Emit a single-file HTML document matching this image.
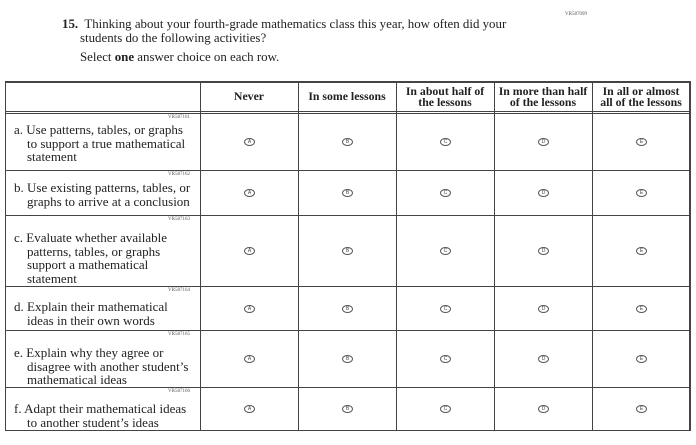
<!DOCTYPE html>
<html><head><meta charset="utf-8"><style>
body{margin:0;width:696px;height:445px;background:#fff;position:relative;overflow:hidden;font-family:"Liberation Serif",serif;color:#222}
.a{position:absolute;white-space:nowrap}
.hl{position:absolute;background:#444;height:1px}
.vl{position:absolute;background:#444;width:1px}
.q{font-size:12.9px;line-height:13px}
.vr{font-size:5px;color:#555}
.rt{font-size:13px;line-height:13.5px}
.hd{font-size:11.8px;font-weight:bold;line-height:11px;text-align:center;position:absolute}
.b{position:absolute;width:9px;height:6px;border:1px solid #555;border-radius:50%;font-size:5px;line-height:6px;text-align:center;color:#444;font-family:"Liberation Sans",sans-serif}
</style></head><body>
<div class="a vr" style="left:565px;top:12px">VR587099</div>
<div class="a q" style="left:62px;top:18px"><b>15.</b>&nbsp; Thinking about your fourth-grade mathematics class this year, how often did your</div>
<div class="a q" style="left:80px;top:32px">students do the following activities?</div>
<div class="a q" style="left:80px;top:51px">Select <b>one</b> answer choice on each row.</div>

<div class="hl" style="left:5px;width:685px;top:81px;height:2px"></div>
<div class="hl" style="left:5px;width:685px;top:111px"></div>
<div class="hl" style="left:5px;width:685px;top:113px"></div>
<div class="hl" style="left:5px;width:685px;top:170px"></div>
<div class="hl" style="left:5px;width:685px;top:215px"></div>
<div class="hl" style="left:5px;width:685px;top:286px"></div>
<div class="hl" style="left:5px;width:685px;top:330px"></div>
<div class="hl" style="left:5px;width:685px;top:387px"></div>
<div class="hl" style="left:5px;width:685px;top:430px"></div>
<div class="vl" style="left:5px;top:81px;height:350px"></div>
<div class="vl" style="left:689px;top:81px;height:350px;width:2px"></div>
<div class="vl" style="left:200px;top:81px;height:350px"></div>
<div class="vl" style="left:298px;top:81px;height:350px"></div>
<div class="vl" style="left:396px;top:81px;height:350px"></div>
<div class="vl" style="left:494px;top:81px;height:350px"></div>
<div class="vl" style="left:592px;top:81px;height:350px"></div>

<div class="hd" style="left:200px;width:98px;top:91px">Never</div>
<div class="hd" style="left:298px;width:98px;top:91px">In some lessons</div>
<div class="hd" style="left:396px;width:98px;top:86px">In about half of<br>the lessons</div>
<div class="hd" style="left:494px;width:98px;top:86px">In more than half<br>of the lessons</div>
<div class="hd" style="left:592px;width:98px;top:86px">In all or almost<br>all of the lessons</div>

<div class="a vr" style="left:168px;top:115px">VR587161</div>
<div class="a rt" style="left:14px;top:123px">a. Use patterns, tables, or graphs<br>&nbsp;&nbsp;&nbsp; to support a true mathematical<br>&nbsp;&nbsp;&nbsp; statement</div>
<div class="a vr" style="left:168px;top:172px">VR587162</div>
<div class="a rt" style="left:14px;top:181px">b. Use existing patterns, tables, or<br>&nbsp;&nbsp;&nbsp; graphs to arrive at a conclusion</div>
<div class="a vr" style="left:168px;top:217px">VR587163</div>
<div class="a rt" style="left:14px;top:231px">c. Evaluate whether available<br>&nbsp;&nbsp;&nbsp; patterns, tables, or graphs<br>&nbsp;&nbsp;&nbsp; support a mathematical<br>&nbsp;&nbsp;&nbsp; statement</div>
<div class="a vr" style="left:168px;top:288px">VR587164</div>
<div class="a rt" style="left:14px;top:300px">d. Explain their mathematical<br>&nbsp;&nbsp;&nbsp; ideas in their own words</div>
<div class="a vr" style="left:168px;top:332px">VR587165</div>
<div class="a rt" style="left:14px;top:346px">e. Explain why they agree or<br>&nbsp;&nbsp;&nbsp; disagree with another student’s<br>&nbsp;&nbsp;&nbsp; mathematical ideas</div>
<div class="a vr" style="left:168px;top:389px">VR587166</div>
<div class="a rt" style="left:14px;top:402px">f. Adapt their mathematical ideas<br>&nbsp;&nbsp;&nbsp; to another student’s ideas</div>

<div id="bb"></div>
<script>
var rows=[142,193,251,309,359,409],cols=[249,347,445,543,641],L="ABCDE",h="";
rows.forEach(function(y){cols.forEach(function(x,i){h+='<div class="b" style="left:'+(x-5)+'px;top:'+(y-4)+'px">'+L[i]+'</div>';});});
document.getElementById("bb").innerHTML=h;
</script>
</body></html>
